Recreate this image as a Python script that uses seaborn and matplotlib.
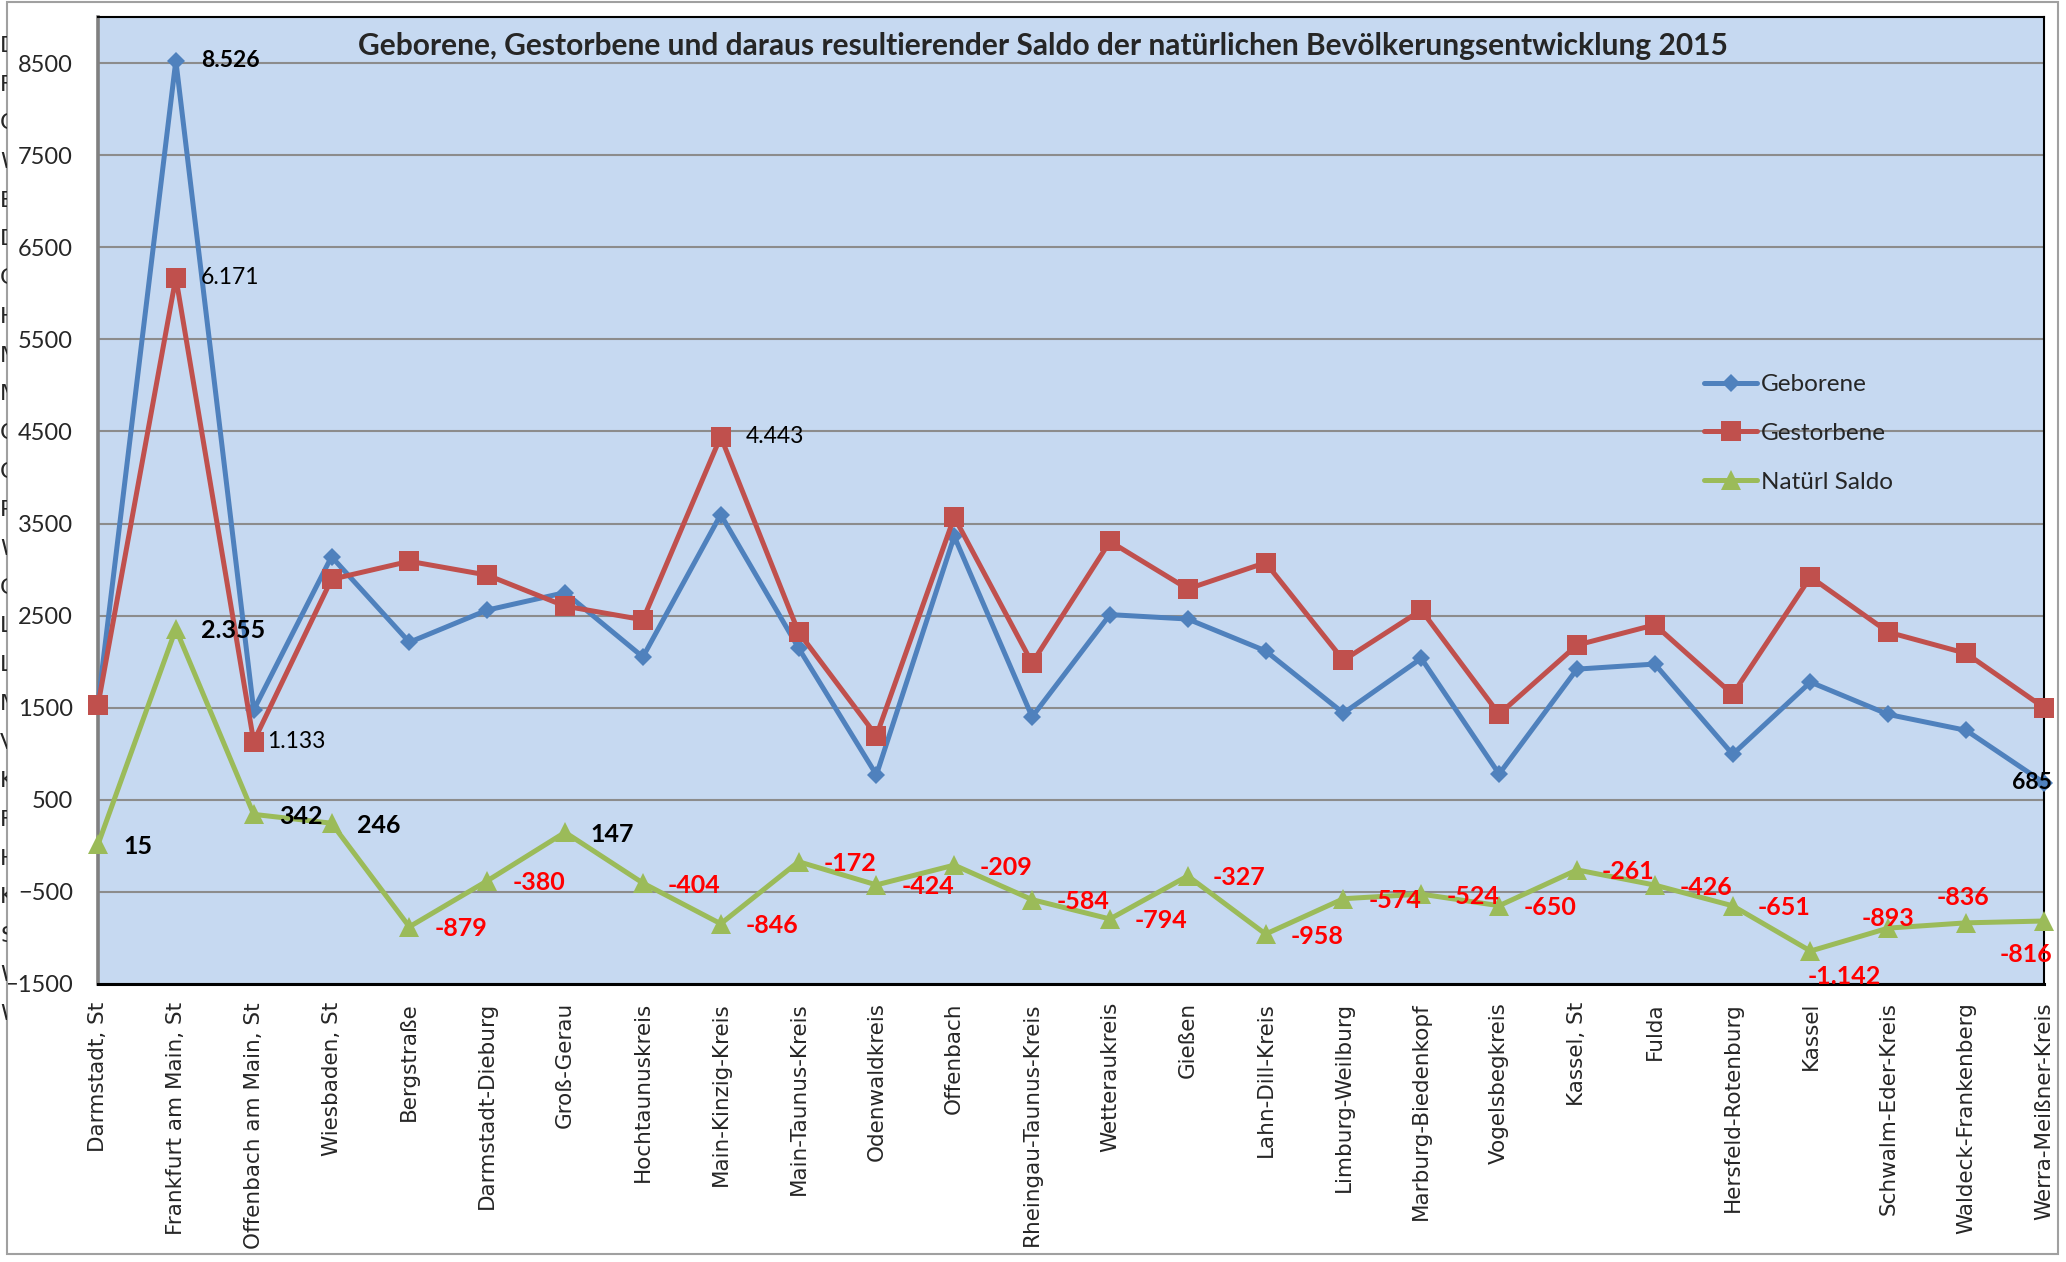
import numpy as np
import pandas as pd
import matplotlib
matplotlib.use("Agg")
import matplotlib.pyplot as plt
import seaborn as sns
from matplotlib.patches import Rectangle
from matplotlib.transforms import Bbox, TransformedBbox

# data
categories = ["Darmstadt, St", "Frankfurt am Main, St", "Offenbach am Main, St", "Wiesbaden, St",
              "Bergstraße", "Darmstadt-Dieburg", "Groß-Gerau", "Hochtaunuskreis",
              "Main-Kinzig-Kreis", "Main-Taunus-Kreis", "Odenwaldkreis", "Offenbach",
              "Rheingau-Taunus-Kreis", "Wetteraukreis", "Gießen", "Lahn-Dill-Kreis",
              "Limburg-Weilburg", "Marburg-Biedenkopf", "Vogelsbegkreis", "Kassel, St",
              "Fulda", "Hersfeld-Rotenburg", "Kassel", "Schwalm-Eder-Kreis",
              "Waldeck-Frankenberg", "Werra-Meißner-Kreis"]
geborene = [1545, 8526, 1475, 3140, 2211, 2560, 2750, 2051, 3597, 2148, 771, 3361, 1401,
            2511, 2463, 2117, 1441, 2036, 780, 1919, 1974, 994, 1778, 1427, 1254, 685]
gestorbene = [1530, 6171, 1133, 2894, 3090, 2940, 2603, 2455, 4443, 2320, 1195, 3570, 1985,
              3305, 2790, 3075, 2015, 2560, 1430, 2180, 2400, 1645, 2920, 2320, 2090, 1501]
saldo = [15, 2355, 342, 246, -879, -380, 147, -404, -846, -172, -424, -209, -584,
         -794, -327, -958, -574, -524, -650, -261, -426, -651, -1142, -893, -836, -816]
y_ticks = list(range(-1500, 8501, 1000))

title = "Geborene, Gestorbene und daraus resultierender Saldo der natürlichen Bevölkerungsentwicklung 2015"

df = pd.DataFrame({"Gebiet": categories, "Geborene": geborene,
                   "Gestorbene": gestorbene, "Natürl Saldo": saldo})
df["pos"] = np.arange(len(df))

sns.set_style("white")
plt.rcParams["font.family"] = ["Lato", "DejaVu Sans"]

W, H = 2066, 1262
fig = plt.figure(figsize=(W / 100, H / 100), dpi=100)
ax = fig.add_axes([98 / W, 1 - 984 / H, (2044 - 98) / W, (984 - 17) / H])
ax.set_facecolor("#C6D9F1")

blue, red, green = "#4F81BD", "#C0504D", "#9BBB59"
lw = 3.6
sns.lineplot(data=df, x="pos", y="Geborene", ax=ax, color=blue, marker="D", markersize=9.5,
             markeredgewidth=0, linewidth=lw, label="Geborene", clip_on=False, zorder=3)
sns.lineplot(data=df, x="pos", y="Gestorbene", ax=ax, color=red, marker="s", markersize=14,
             markeredgewidth=0, linewidth=lw, label="Gestorbene", clip_on=False, zorder=4)
sns.lineplot(data=df, x="pos", y="Natürl Saldo", ax=ax, color=green, marker="^", markersize=14.5,
             markeredgewidth=0, linewidth=lw, label="Natürl Saldo", clip_on=False, zorder=5)

ax.set_xlim(0, len(categories) - 1)
ax.set_ylim(-1500, 9000)
ax.set_yticks(y_ticks)
ax.set_xticks(df["pos"])
ax.set_xticklabels(categories, rotation=90, fontsize=15.5, family="DejaVu Sans", va="top")
ax.tick_params(axis="x", length=0, pad=13)
ax.tick_params(axis="y", length=0, pad=18, labelsize=17)
ax.set_xlabel("")
ax.set_ylabel("")
ax.yaxis.grid(True, color="#8C8C8C", linewidth=1.5)
ax.xaxis.grid(False)
ax.set_axisbelow(True)
ax.spines["left"].set_color("#808080")
ax.spines["left"].set_linewidth(2.6)
ax.spines["bottom"].set_color("black")
ax.spines["bottom"].set_linewidth(2.2)
for s in ["top", "right"]:
    ax.spines[s].set_color("black")
    ax.spines[s].set_linewidth(1.5)


def fmt(v):
    return f"{v:,}".replace(",", ".")


px = 0.72  # pixels -> points


def label(i, v, color, size, weight, dx=25, dy=0, ha="left"):
    ax.annotate(fmt(v), (i, v), xytext=(dx * px, dy * px), textcoords="offset points",
                ha=ha, va="center", color=color, fontsize=size, fontweight=weight,
                zorder=6, annotation_clip=False)


# Saldo labels
special = {22: (34, -25, "center"), 23: (0, 10, "center"),
           24: (-3, 25, "center"), 25: (-18, -33, "center")}
for i, v in enumerate(saldo):
    col = "black" if v >= 0 else "#FF0000"
    dx, dy, ha = special.get(i, (25, -2, "left"))
    label(i, v, col, 18, "bold", dx, dy, ha)

label(1, geborene[1], "black", 16.5, "bold")
label(25, geborene[25], "black", 16.5, "bold", dx=-12, dy=0, ha="center")
label(1, gestorbene[1], "black", 16.5, "normal")
label(2, gestorbene[2], "black", 16.5, "normal", dx=13)
label(8, gestorbene[8], "black", 16.5, "normal")

ax.legend(loc="upper left", bbox_to_anchor=(1704 / W, 1 - 374 / H), bbox_transform=fig.transFigure,
          frameon=False, fontsize=17.5, handlelength=2.2, handletextpad=0.15,
          labelspacing=1.15, borderpad=0, borderaxespad=0)

fig.text(1043 / W, 1 - 46 / H, title, ha="center", va="center", fontsize=21.5, fontweight="bold")

# outer chart frame
fig.add_artist(Rectangle((7 / W, 8 / H), (2058 - 7) / W, (1254 - 2) / H, transform=fig.transFigure,
                         fill=False, edgecolor="#A0A0A0", linewidth=1.5))

# clipped letters of a hidden table at the left edge
clip = TransformedBbox(Bbox([[0, 0], [7 / W, 1]]), fig.transFigure)
for i, name in enumerate(categories):
    t = fig.text(0, 1 - (46 + i * 38.7) / H, name[0], ha="left", va="center",
                 fontsize=16, family="DejaVu Sans")
    t.set_clip_on(True)
    t.set_clip_box(clip)

fig.savefig("out.png", dpi=100, facecolor="white")
